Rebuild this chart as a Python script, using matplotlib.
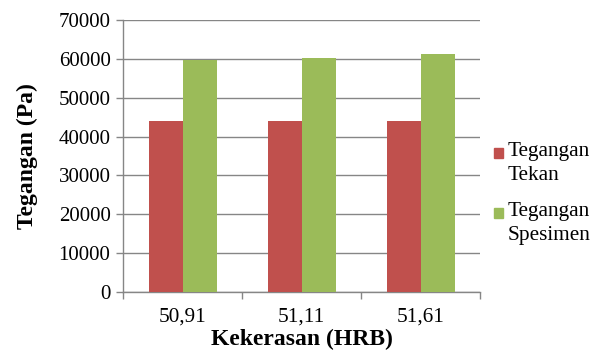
import matplotlib
matplotlib.use("Agg")
import matplotlib.pyplot as plt
from matplotlib.patches import Rectangle
import numpy as np

categories = ["50,91", "51,11", "51,61"]
tegangan_tekan = [44000, 44000, 44000]
tegangan_spesimen = [59800, 60100, 61300]
series_labels = ["Tegangan\nTekan", "Tegangan\nSpesimen"]
series_colors = ["#C0504D", "#9BBB59"]
y_ticks = [0, 10000, 20000, 30000, 40000, 50000, 60000, 70000]

plt.rcParams["font.family"] = ["Liberation Serif", "DejaVu Serif"]

fig = plt.figure(figsize=(6.07, 3.52), dpi=100)
ax = fig.add_axes([123 / 607, 60 / 352, (480 - 123) / 607, (292 - 20) / 352])

x = np.arange(len(categories))
bw = 1 / 3.5
ax.bar(x - bw / 2, tegangan_tekan, width=bw, color=series_colors[0], zorder=3)
ax.bar(x + bw / 2, tegangan_spesimen, width=bw, color=series_colors[1], zorder=3)

ax.set_xlim(-0.5, len(categories) - 0.5)
ax.set_ylim(0, 70000)
ax.set_yticks(y_ticks)
ax.set_yticklabels([str(v) for v in y_ticks])
ax.set_xticks(x)
ax.set_xticklabels(categories)
ax.tick_params(axis="x", length=0, labelsize=15.3, pad=11)
ax.set_xticks(np.arange(len(categories) + 1) - 0.5, minor=True)
ax.tick_params(axis="x", which="minor", length=5, color="#868686", width=1)
ax.tick_params(axis="y", length=5, color="#868686", width=1, labelsize=15, pad=4)

ax.grid(axis="y", color="#868686", linewidth=1, zorder=0)
for s in ["top", "right"]:
    ax.spines[s].set_visible(False)
ax.spines["left"].set_color("#868686")
ax.spines["bottom"].set_color("#868686")
ax.spines["left"].set_linewidth(1)
ax.spines["bottom"].set_linewidth(1)

ax.set_xlabel("Kekerasan (HRB)", fontsize=17, fontweight="bold", labelpad=2)
ax.set_ylabel("Tegangan (Pa)", fontsize=17, fontweight="bold", labelpad=15)

# Legend drawn as swatches with two-line labels beside them
legend_tops = [148, 208]
for lab, col, ytop in zip(series_labels, series_colors, legend_tops):
    fig.patches.append(Rectangle((494 / 607, 1 - (ytop + 10) / 352), 9 / 607, 10 / 352,
                                 transform=fig.transFigure, color=col))
    fig.text(508 / 607, 1 - (ytop - 6) / 352, lab, fontsize=15.3, va="top", ha="left",
             linespacing=1.35)

fig.savefig("out.png", dpi=100)
